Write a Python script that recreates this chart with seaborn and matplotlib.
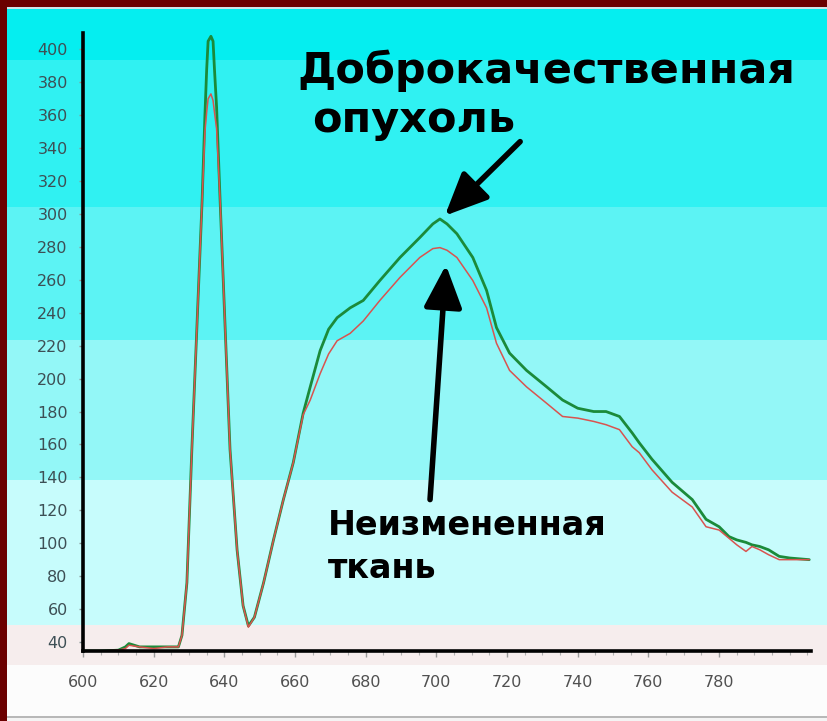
import matplotlib
matplotlib.use("Agg")
import matplotlib.pyplot as plt
from matplotlib.patches import Rectangle
from matplotlib.ticker import MultipleLocator
import pandas as pd
import seaborn as sns

# spectra (wavelength, nm -> intensity)
wavelength = [600, 605, 610, 612, 613, 616, 620, 624, 627, 628,
              629.4, 630.8, 632.3, 633.7, 634.5, 635, 635.4, 636.2, 636.8, 637.2,
              637.8, 638.8, 640.2, 641.6, 643.6, 645.3, 646.8, 648.5, 651.1, 653.9,
              656.7, 659.5, 662.3, 664.3, 667.1, 669.5, 671.9, 675.6, 679.3, 684,
              689.7, 695.3, 699, 701, 703, 705.8, 710.3, 714.2, 717, 720.7,
              725.5, 731.2, 735.7, 740, 744.5, 748, 751.8, 755.4, 757.4, 761,
              766.7, 772.4, 776.3, 780, 782.8, 785, 787.6, 789.3, 791.5, 794,
              797, 800, 805.5]
tumor = [34.5, 34.5, 35, 37, 39, 37, 37, 37, 37, 44,
         76, 157, 235, 308, 360, 388, 405, 408, 405, 388,
         365, 308, 232, 157, 96, 62, 49.7, 55, 76, 102,
         126.5, 149, 179, 195, 217, 230, 237, 243, 247.5, 259.6,
         273.6, 285.7, 294, 297, 294, 288, 273.6, 253.6, 231, 215.5,
         205, 195, 187, 182, 180, 180, 177, 167, 161, 151,
         137, 126.5, 114.5, 110, 104, 102, 100.5, 99, 98, 96,
         92, 91, 90]
normal = [34.5, 34.5, 35, 36, 38, 37, 36, 37, 37, 44,
          76, 157, 235, 308, 350, 362, 370, 373, 369, 362,
          352, 308, 232, 157, 96, 62, 49, 55, 76, 102,
          126.5, 149, 178, 187, 203, 215, 223, 227.5, 235, 247.5,
          261.5, 273.6, 279, 279.6, 278, 273.6, 259.6, 243, 221.5, 205,
          195, 185, 177, 176, 174, 172, 169, 158.6, 155, 144.6,
          131, 122, 110, 108, 103, 99, 95, 98, 96, 93,
          90, 90, 90]
x_ticks = list(range(600, 781, 20))
y_ticks = list(range(40, 401, 20))

W, H = 828, 721
sns.set_style("white")
plt.rcParams['font.family'] = ['DejaVu Sans']

fig = plt.figure(figsize=(W / 100, H / 100), dpi=100)

# background panel with horizontal colour bands
bg = fig.add_axes([0, 0, 1, 1])
bg.set_xlim(0, W)
bg.set_ylim(H, 0)
bg.axis('off')
bands = [(0, 60, '#05eef0'), (60, 207, '#30f1f2'), (207, 340, '#5cf3f4'),
         (340, 480, '#93f7f7'), (480, 625, '#c7fcfc'), (625, 665, '#f6eded'),
         (665, 716, '#fcfcfc'), (716, 718, '#b8b8b8'), (718, H, '#f4f4f4')]
for y0, y1, c in bands:
    bg.add_patch(Rectangle((0, y0), W, y1 - y0, color=c, lw=0))
bg.add_patch(Rectangle((0, 7), W, 2, color='#d0e4e6', lw=0))
bg.add_patch(Rectangle((0, 0), W, 7, color='#6b0000', lw=0))
bg.add_patch(Rectangle((0, 0), 7, H, color='#6b0000', lw=0))

ax = fig.add_axes([83 / W, 1 - 651 / H, (811 - 83) / W, (651 - 33) / H])
ax.set_facecolor('none')
df = pd.DataFrame({'wl': wavelength, 'tumor': tumor, 'normal': normal})
sns.lineplot(data=df, x='wl', y='tumor', color='#1b8a3a', lw=2.0, ax=ax)
sns.lineplot(data=df, x='wl', y='normal', color='#d9534f', lw=1.1, ax=ax)

ax.set_xlim(600, 806)
ax.set_ylim(34.5, 410)
ax.set_xlabel('')
ax.set_ylabel('')
ax.set_xticks(x_ticks)
ax.set_yticks(y_ticks)
ax.xaxis.set_minor_locator(MultipleLocator(5))
for s in ['top', 'right']:
    ax.spines[s].set_visible(False)
for s in ['left', 'bottom']:
    ax.spines[s].set_color('black')
    ax.spines[s].set_linewidth(2.6)
ax.tick_params(axis='y', direction='out', length=3, width=1, color='#8a9a9a',
               labelsize=11.5, labelcolor='#3d4f55', pad=8, left=True)
ax.tick_params(axis='x', which='major', direction='out', length=4, width=1,
               color='#9a9a9a', labelsize=11.5, labelcolor='#505050', pad=13, bottom=True)
ax.tick_params(axis='x', which='minor', direction='out', length=3, width=0.8,
               color='#b0b0b0', bottom=True)

# labels and arrows
fig.text(297 / W, 1 - 83 / H, 'Доброкачественная', fontsize=31, fontweight='bold',
         color='black', ha='left', va='baseline')
fig.text(312 / W, 1 - 132 / H, 'опухоль', fontsize=31, fontweight='bold',
         color='black', ha='left', va='baseline')
fig.text(328 / W, 1 - 535 / H, 'Неизмененная', fontsize=24, fontweight='bold',
         color='black', ha='left', va='baseline')
fig.text(328 / W, 1 - 578 / H, 'ткань', fontsize=24, fontweight='bold',
         color='black', ha='left', va='baseline')

arrow = dict(arrowstyle='-|>,head_length=1.0,head_width=0.45', color='black',
             lw=4, mutation_scale=26, shrinkA=0, shrinkB=0)
ax.annotate('', xy=(702.4, 299), xytext=(723.7, 344), arrowprops=arrow,
            annotation_clip=False)
ax.annotate('', xy=(702.7, 269), xytext=(698.2, 126.5), arrowprops=arrow,
            annotation_clip=False)

fig.savefig('out.png', dpi=100)
